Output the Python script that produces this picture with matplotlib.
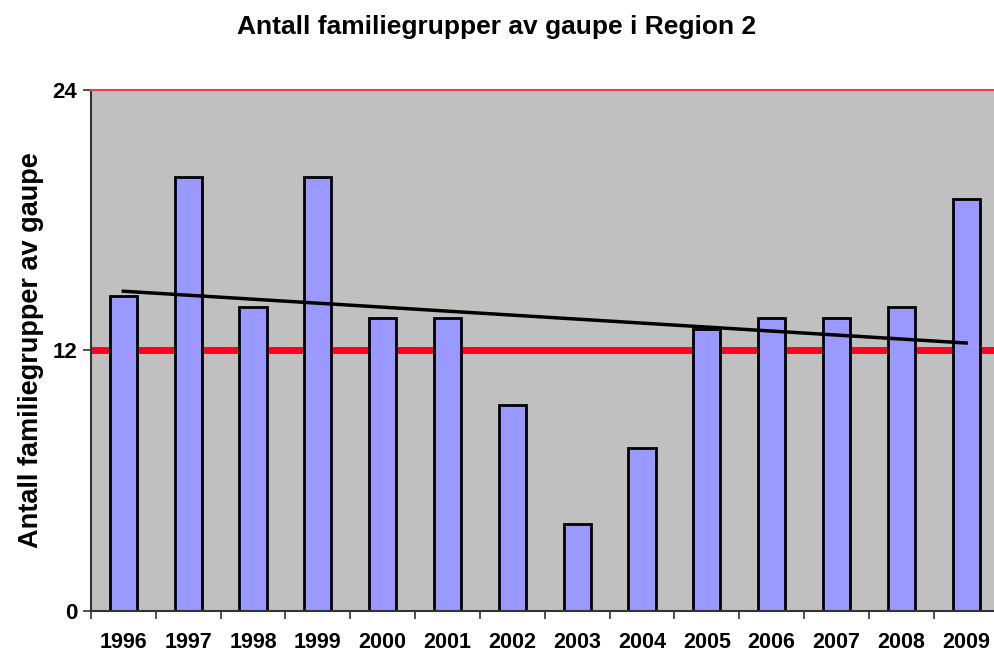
import matplotlib
matplotlib.use("Agg")
import matplotlib.pyplot as plt
import numpy as np

# Lynx family groups in Region 2
years = ["1996", "1997", "1998", "1999", "2000", "2001", "2002",
         "2003", "2004", "2005", "2006", "2007", "2008", "2009"]
counts = [14.5, 20, 14, 20, 13.5, 13.5, 9.5, 4, 7.5, 13, 13.5, 13.5, 14, 19]
target_low = 12
target_high = 24
yticks = [0, 12, 24]

plt.rcParams["font.family"] = ["Liberation Sans", "DejaVu Sans"]
plt.rcParams["font.weight"] = "bold"

fig = plt.figure(figsize=(9.94, 6.52), dpi=100)
ax = fig.add_axes([0.0915, 0.063, 0.9085, 0.799])
ax.set_facecolor("#C0C0C0")

x = np.arange(len(years))
ax.axhline(target_low, color="#FF0022", lw=5, zorder=1)
ax.axhline(target_high, color="#E8404A", lw=1.5, zorder=3, clip_on=False)
ax.bar(x, counts, width=0.42, color="#9999FF", edgecolor="black",
       linewidth=2, zorder=2)

# linear trend line over the series
slope, icpt = np.polyfit(x, counts, 1)
ax.plot([x[0], x[-1]], [icpt, icpt + slope * x[-1]], color="black",
        lw=2.5, zorder=4)

ax.set_xlim(-0.5, 13.43)
ax.set_ylim(0, 24)
ax.set_yticks(yticks)
ax.set_yticklabels([str(v) for v in yticks], fontsize=16, fontweight="bold")
ax.set_xticks(x - 0.5, minor=False)
ax.set_xticklabels([])
ax.set_xticks(x, minor=True)
ax.set_xticklabels(years, minor=True, fontsize=15.5, fontweight="bold")
ax.tick_params(axis="x", which="minor", length=0, pad=15)
ax.tick_params(axis="x", which="major", length=6, width=1.2, color="#333333")
ax.tick_params(axis="y", length=6, width=1.2, color="#333333", pad=4)

for side in ["top", "right"]:
    ax.spines[side].set_visible(False)
for side in ["left", "bottom"]:
    ax.spines[side].set_color("#333333")
    ax.spines[side].set_linewidth(1.5)

ax.set_ylabel("Antall familiegrupper av gaupe", fontsize=19.5,
              fontweight="bold")
ax.yaxis.set_label_coords(-0.052, 0.5)
fig.suptitle("Antall familiegrupper av gaupe i Region 2", fontsize=19,
             fontweight="bold", y=0.977, va="top")

fig.savefig("out.png", dpi=100)
